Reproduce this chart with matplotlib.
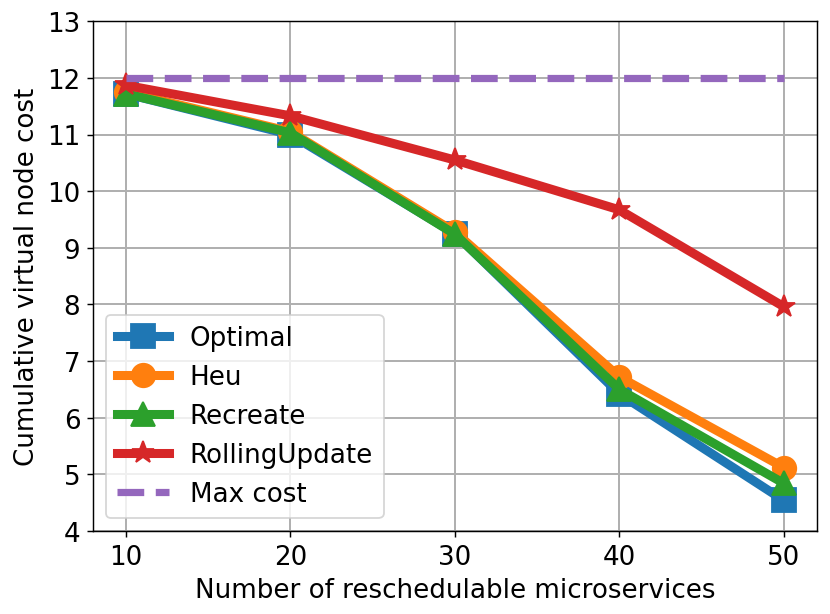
import matplotlib
matplotlib.use("Agg")
import matplotlib.pyplot as plt

x = [10, 20, 30, 40, 50]
optimal = [11.72, 11.0, 9.25, 6.42, 4.54]
heu = [11.75, 11.05, 9.28, 6.72, 5.12]
recreate = [11.72, 11.03, 9.24, 6.5, 4.84]
rolling = [11.87, 11.33, 10.55, 9.67, 7.96]
max_cost = [12, 12, 12, 12, 12]

fig = plt.figure(figsize=(6.385, 4.73), dpi=130)
ax = fig.add_axes([0.112, 0.135, 0.872, 0.829])

lw = 5
ms = 13
ax.plot(x, optimal, marker='s', lw=lw, ms=ms, color='#1f77b4', label='Optimal')
ax.plot(x, heu, marker='o', lw=lw, ms=ms, color='#ff7f0e', label='Heu')
ax.plot(x, recreate, marker='^', lw=lw, ms=ms, color='#2ca02c', label='Recreate')
ax.plot(x, rolling, marker='*', lw=lw, ms=ms, color='#d62728', label='RollingUpdate')
ax.plot(x, max_cost, ls='--', lw=4, color='#9467bd', label='Max cost')

ax.set_ylim(4, 13)
ax.set_xticks(x)
ax.set_yticks(range(4, 14))
ax.tick_params(labelsize=14.5)
ax.grid(True, color='#b0b0b0', lw=1.1)
ax.set_axisbelow(True)
ax.set_xlabel('Number of reschedulable microservices', fontsize=14.5)
ax.set_ylabel('Cumulative virtual node cost', fontsize=14.5)
ax.legend(loc='lower left', fontsize=14.5)

fig.savefig('out.png', dpi=130)
